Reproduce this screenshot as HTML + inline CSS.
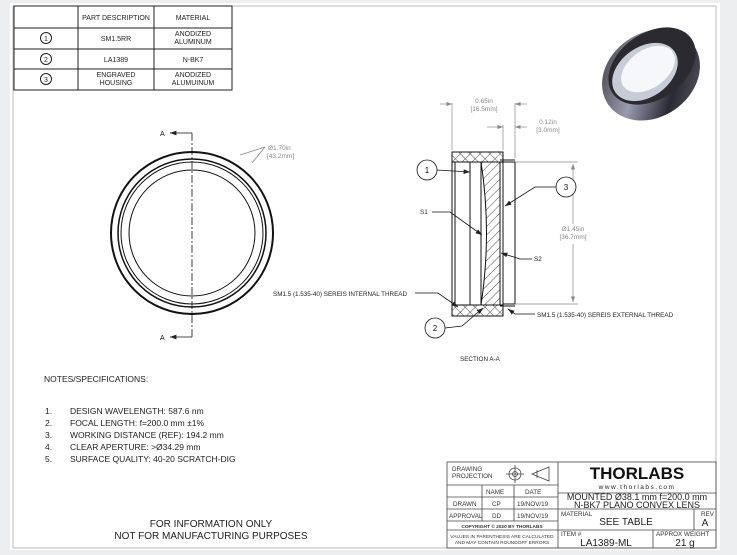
<!DOCTYPE html>
<html><head><meta charset="utf-8"><style>
html,body{margin:0;padding:0;background:#eceef0;}
svg{display:block;font-family:"Liberation Sans",sans-serif;}
</style></head><body>
<svg width="737" height="555" viewBox="0 0 737 555" xmlns="http://www.w3.org/2000/svg">
<defs>
<pattern id="h" width="6" height="6" patternUnits="userSpaceOnUse" patternTransform="rotate(45)"><line x1="0" y1="0" x2="0" y2="6" stroke="#222" stroke-width="0.8"/></pattern>
<pattern id="x" width="7" height="7" patternUnits="userSpaceOnUse" patternTransform="rotate(45)"><line x1="0" y1="0" x2="0" y2="7" stroke="#222" stroke-width="0.8"/><line x1="0" y1="0" x2="7" y2="0" stroke="#222" stroke-width="0.8"/></pattern>
<marker id="ar" markerWidth="8" markerHeight="6" refX="8" refY="3" orient="auto"><path d="M0,0 L8,3 L0,6 z" fill="#222"/></marker>
<marker id="ag" markerWidth="8" markerHeight="6" refX="8" refY="3" orient="auto"><path d="M0,0 L8,3 L0,6 z" fill="#888"/></marker>
<linearGradient id="g" x1="0" y1="0" x2="1" y2="1"><stop offset="0" stop-color="#333"/><stop offset="0.4" stop-color="#9a9ab0"/><stop offset="0.7" stop-color="#2a2a35"/><stop offset="1" stop-color="#666"/></linearGradient>
</defs>
<rect x="10" y="3" width="710" height="547" fill="#fff"/>
<rect x="13" y="6" width="703" height="542" fill="none" stroke="#bbb" stroke-width="1"/>
<g stroke="#222" stroke-width="1" fill="none">
<rect x="14" y="6" width="218" height="84"/>
<line x1="78" y1="6" x2="78" y2="90"/><line x1="154" y1="6" x2="154" y2="90"/>
<line x1="14" y1="28" x2="232" y2="28"/><line x1="14" y1="49" x2="232" y2="49"/><line x1="14" y1="69" x2="232" y2="69"/>
<circle cx="46" cy="38" r="5.5"/><circle cx="46" cy="59" r="5.5"/><circle cx="46" cy="79" r="5.5"/>
</g>
<g font-size="7" fill="#222" text-anchor="middle">
<text x="116" y="20">PART DESCRIPTION</text><text x="193" y="20">MATERIAL</text>
<text x="46" y="41">1</text><text x="46" y="62">2</text><text x="46" y="82">3</text>
<text x="116" y="41">SM1.5RR</text><text x="193" y="36">ANODIZED</text><text x="193" y="44">ALUMINUM</text>
<text x="116" y="62">LA1389</text><text x="193" y="62">N-BK7</text>
<text x="116" y="77">ENGRAVED</text><text x="116" y="85">HOUSING</text>
<text x="193" y="77">ANODIZED</text><text x="193" y="85">ALUMUINUM</text>
</g>
<g fill="none" stroke="#111">
<circle cx="192" cy="233" r="81" stroke-width="2"/>
<circle cx="192" cy="233" r="74" stroke-width="1.5"/>
<circle cx="192" cy="233" r="71" stroke-width="1"/>
<circle cx="192" cy="233" r="63" stroke-width="1"/>
<line x1="192" y1="133" x2="192" y2="338" stroke-dasharray="8,2,2,2" stroke-width="0.8"/>
<line x1="192" y1="133" x2="170" y2="133" marker-end="url(#ar)" stroke-width="0.8"/>
<line x1="192" y1="337" x2="170" y2="337" marker-end="url(#ar)" stroke-width="0.8"/>
<line x1="240" y1="155" x2="265" y2="147" stroke="#888" stroke-width="0.8"/>
<line x1="265" y1="147" x2="252" y2="163" stroke="#888" stroke-width="0.8"/>
</g>
<text x="160" y="136" font-size="7" fill="#111">A</text><text x="160" y="340" font-size="7" fill="#111">A</text>
<text x="268" y="150" font-size="6.5" fill="#888">Ø1.70in</text><text x="267" y="158" font-size="6.5" fill="#888">[43.2mm]</text>
<g stroke="#111" stroke-width="1">
<rect x="452" y="152" width="51" height="10" fill="url(#x)"/>
<rect x="452" y="305" width="51" height="11" fill="url(#x)"/>
<rect x="452" y="162" width="3" height="143" fill="#fff"/>
<path d="M481,162 L500,162 L500,305 L481,305 Q492,233 481,162 z" fill="url(#h)"/>
<rect x="470" y="162" width="11" height="143" fill="none"/>
<rect x="503" y="162" width="12" height="142" fill="#fff"/>
<line x1="500" y1="160" x2="515" y2="160"/><line x1="500" y1="306" x2="515" y2="306"/>
</g>
<g stroke="#888" stroke-width="0.7" fill="none">
<line x1="452" y1="103" x2="452" y2="150"/><line x1="515" y1="103" x2="515" y2="158"/><line x1="503" y1="125" x2="503" y2="150"/>
<line x1="440" y1="104" x2="452" y2="104" marker-end="url(#ag)"/><line x1="527" y1="104" x2="515" y2="104" marker-end="url(#ag)"/>
<line x1="487" y1="127" x2="503" y2="127" marker-end="url(#ag)"/><line x1="527" y1="127" x2="515" y2="127" marker-end="url(#ag)"/>
<line x1="515" y1="162" x2="578" y2="162"/><line x1="515" y1="304" x2="578" y2="304"/>
<line x1="573" y1="224" x2="573" y2="164" marker-end="url(#ag)"/><line x1="573" y1="244" x2="573" y2="302" marker-end="url(#ag)"/>
</g>
<g font-size="6.5" fill="#888" text-anchor="middle">
<text x="484" y="103">0.65in</text><text x="484" y="111">[16.5mm]</text>
<text x="548" y="124">0.12in</text><text x="548" y="132">[3.0mm]</text>
<text x="573" y="231">Ø1.45in</text><text x="573" y="239">[36.7mm]</text>
</g>
<g stroke="#111" stroke-width="0.8" fill="#fff">
<circle cx="427" cy="170" r="10"/><circle cx="566" cy="187" r="10"/><circle cx="435" cy="328" r="10"/>
<polyline points="437,170 470,172" fill="none" marker-end="url(#ar)"/>
<polyline points="556,187 535,187 505,206" fill="none" marker-end="url(#ar)"/>
<polyline points="445,328 462,326 483,308" fill="none" marker-end="url(#ar)"/>
<polyline points="432,212 450,212 482,235" fill="none" marker-end="url(#ar)"/>
<polyline points="532,259 520,259 501,253" fill="none" marker-end="url(#ar)"/>
<polyline points="415,293 438,293 458,307" fill="none" marker-end="url(#ar)"/>
<polyline points="535,314 515,314 508,309" fill="none" marker-end="url(#ar)"/>
</g>
<g font-size="8" fill="#111" text-anchor="middle"><text x="427" y="173">1</text><text x="566" y="190">3</text><text x="435" y="331">2</text></g>
<g font-size="6.3" fill="#222">
<text x="420" y="214">S1</text><text x="534" y="261">S2</text>
<text x="273" y="296">SM1.5 (1.535-40) SEREIS INTERNAL THREAD</text>
<text x="537" y="317">SM1.5 (1.535-40) SEREIS EXTERNAL THREAD</text>
<text x="460" y="361">SECTION A-A</text>
</g>
<g>
<ellipse cx="651" cy="75" rx="52" ry="42" transform="rotate(-35 651 75)" fill="url(#g)"/>
<ellipse cx="652" cy="66" rx="48" ry="33" transform="rotate(-35 652 66)" fill="#2a2a30"/>
<ellipse cx="645" cy="72" rx="36" ry="25" transform="rotate(-35 645 72)" fill="#c8ccd6"/>
<ellipse cx="648" cy="69" rx="30" ry="19" transform="rotate(-35 648 69)" fill="#f6f7fa"/>
</g>
<g font-size="8.5" fill="#222">
<text x="44" y="382">NOTES/SPECIFICATIONS:</text>
<text x="45" y="414">1.</text><text x="70" y="414">DESIGN WAVELENGTH: 587.6 nm</text>
<text x="45" y="426">2.</text><text x="70" y="426">FOCAL LENGTH: f=200.0 mm ±1%</text>
<text x="45" y="438">3.</text><text x="70" y="438">WORKING DISTANCE (REF): 194.2 mm</text>
<text x="45" y="450">4.</text><text x="70" y="450">CLEAR APERTURE: &gt;Ø34.29 mm</text>
<text x="45" y="462">5.</text><text x="70" y="462">SURFACE QUALITY: 40-20 SCRATCH-DIG</text>
</g>
<g font-size="10" fill="#222" text-anchor="middle">
<text x="211" y="527">FOR INFORMATION ONLY</text><text x="211" y="539">NOT FOR MANUFACTURING PURPOSES</text>
</g>
<g stroke="#444" stroke-width="0.8" fill="none">
<rect x="447" y="462" width="269" height="86"/>
<line x1="558" y1="462" x2="558" y2="548"/>
<line x1="447" y1="485" x2="558" y2="485"/><line x1="447" y1="497" x2="558" y2="497"/><line x1="447" y1="509" x2="558" y2="509"/><line x1="447" y1="521" x2="558" y2="521"/><line x1="447" y1="530" x2="558" y2="530"/>
<line x1="482" y1="485" x2="482" y2="521"/><line x1="514" y1="485" x2="514" y2="521"/>
<line x1="558" y1="493" x2="716" y2="493"/><line x1="558" y1="509" x2="716" y2="509"/><line x1="558" y1="530" x2="716" y2="530"/>
<line x1="694" y1="509" x2="694" y2="530"/><line x1="653" y1="530" x2="653" y2="548"/>
<circle cx="515" cy="474" r="6"/><circle cx="515" cy="474" r="2.5"/><line x1="506" y1="474" x2="524" y2="474"/><line x1="515" y1="465" x2="515" y2="483"/>
<path d="M532,474 L549,467 L549,481 z M537,470 L537,478"/>
</g>
<g font-size="6.3" fill="#333">
<text x="452" y="471">DRAWING</text><text x="452" y="478">PROJECTION</text>
<text x="486" y="494">NAME</text><text x="525" y="494">DATE</text>
<text x="453" y="506">DRAWN</text><text x="492" y="506">CP</text><text x="517" y="506">19/NOV/19</text>
<text x="449" y="518">APPROVAL</text><text x="492" y="518">DD</text><text x="517" y="518">19/NOV/19</text>
<text x="561" y="516">MATERIAL</text><text x="701" y="516">REV</text>
<text x="561" y="536">ITEM #</text><text x="656" y="536">APPROX WEIGHT</text>
</g>
<g font-size="4.8" fill="#333" text-anchor="middle">
<text x="502" y="528" font-weight="bold">COPYRIGHT © 2020 BY THORLABS</text>
<text x="502" y="538">VALUES IN PARENTHESIS ARE CALCULATED</text><text x="502" y="544">AND MAY CONTAIN ROUNDOFF ERRORS</text>
</g>
<text x="637" y="479" font-size="17" font-weight="bold" text-anchor="middle" fill="#111">THORLABS</text>
<text x="637" y="489" font-size="6.5" text-anchor="middle" fill="#222" letter-spacing="1.5">www.thorlabs.com</text>
<g font-size="9" fill="#222" text-anchor="middle">
<text x="637" y="500">MOUNTED Ø38.1 mm f=200.0 mm</text><text x="637" y="508">N-BK7 PLANO CONVEX LENS</text>
<text x="626" y="525" font-size="10">SEE TABLE</text><text x="705" y="526" font-size="10">A</text>
<text x="606" y="546" font-size="10">LA1389-ML</text><text x="685" y="546" font-size="10">21 g</text>
</g>
</svg>
</body></html>
